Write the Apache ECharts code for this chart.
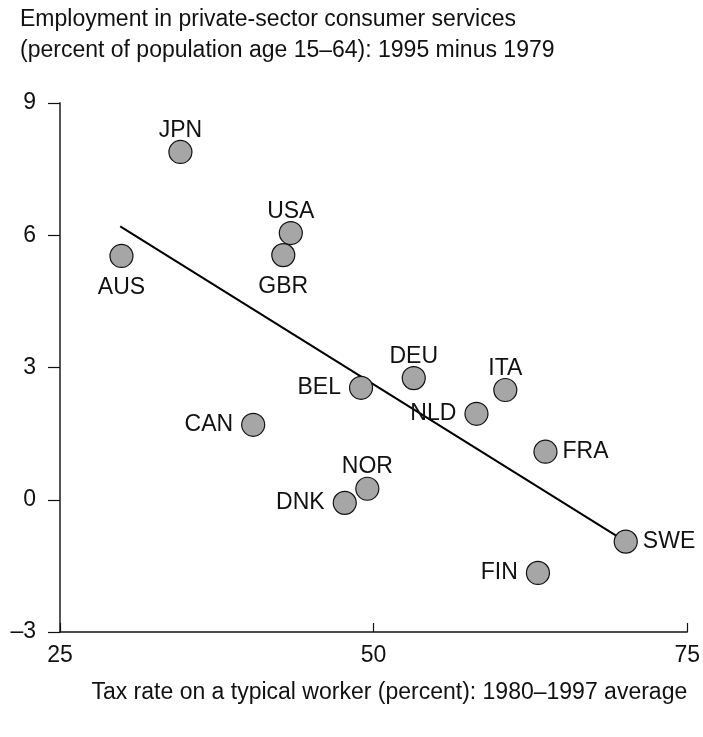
<!DOCTYPE html>
<html>
<head>
<meta charset="utf-8">
<script src="https://cdn.jsdelivr.net/npm/echarts@6/dist/echarts.min.js"></script>
<style>
html,body{margin:0;padding:0;background:#fff;}
#chart{width:703px;height:737px;}
</style>
</head>
<body>
<div id="chart"></div>
<script>
// Data
const countries = ['JPN','AUS','USA','GBR','DEU','BEL','ITA','NLD','CAN','FRA','NOR','DNK','SWE','FIN'];
const taxRate = [34.6, 29.9, 43.4, 42.8, 53.2, 49.0, 60.5, 58.2, 40.4, 63.7, 49.5, 47.7, 70.1, 63.1];
const employmentChange = [7.89, 5.53, 6.05, 5.55, 2.76, 2.54, 2.49, 1.95, 1.70, 1.09, 0.25, -0.07, -0.95, -1.66];
const trendX = [29.8, 70.1];
const trendY = [6.2, -0.95];
const xTicks = [25, 50, 75];
const yTicks = [-3, 0, 3, 6, 9];

const labelSide = {JPN:'top',AUS:'bottom',USA:'top',GBR:'bottom',DEU:'top',BEL:'left',ITA:'top',NLD:'left',CAN:'left',FRA:'right',NOR:'top',DNK:'left',SWE:'right',FIN:'left'};
const sideDistance = {top: -2, bottom: 8, left: 8, right: 5};

const font = 'Liberation Sans, Arial, Helvetica, sans-serif';
const fs = 23;
const chart = echarts.init(document.getElementById('chart'));

const points = countries.map((c, i) => ({
  name: c,
  value: [taxRate[i], employmentChange[i]],
  label: {position: labelSide[c], distance: sideDistance[labelSide[c]]}
}));

chart.setOption({
  animation: false,
  backgroundColor: '#fff',
  textStyle: {fontFamily: font},
  title: {
    text: 'Employment in private-sector consumer services\n(percent of population age 15\u201364): 1995 minus 1979',
    left: 15, top: -1,
    textStyle: {fontFamily: font, fontSize: fs, fontWeight: 'normal', color: '#111', lineHeight: 31}
  },
  grid: {left: 60, right: 15, top: 103, bottom: 105, containLabel: false},
  xAxis: {
    type: 'value', min: 25, max: 75, interval: 25,
    name: 'Tax rate on a typical worker (percent): 1980\u20131997 average',
    nameLocation: 'end',
    nameGap: 0,
    nameTextStyle: {fontFamily: font, fontSize: fs, color: '#111', align: 'right', verticalAlign: 'top', padding: [49, 0, 0, 0]},
    axisLine: {show: true, onZero: false, lineStyle: {color: '#111', width: 1.5}},
    axisTick: {show: true, inside: true, length: 9, lineStyle: {color: '#111', width: 1.2}},
    axisLabel: {fontFamily: font, fontSize: fs, color: '#111', margin: 12,
      formatter: v => xTicks.includes(v) ? String(v) : ''},
    splitLine: {show: false}
  },
  yAxis: {
    type: 'value', min: -3, max: 9, interval: 3,
    axisLine: {show: true, onZero: false, lineStyle: {color: '#555', width: 2}},
    axisTick: {show: true, inside: false, length: 12, lineStyle: {color: '#111', width: 1.2}},
    axisLabel: {fontFamily: font, fontSize: fs, color: '#111', margin: 24,
      formatter: v => yTicks.includes(v) ? (v < 0 ? '\u2013' + Math.abs(v) : String(v)) : ''},
    splitLine: {show: false}
  },
  series: [
    {
      type: 'line',
      data: trendX.map((x, i) => [x, trendY[i]]),
      symbol: 'none',
      lineStyle: {color: '#000', width: 2},
      z: 1,
      silent: true
    },
    {
      type: 'scatter',
      data: points,
      symbolSize: 23,
      itemStyle: {color: '#a6a6a6', borderColor: '#111', borderWidth: 1.2, opacity: 1},
      label: {show: true, formatter: p => p.name, fontFamily: font, fontSize: fs, color: '#111'},
      z: 3
    }
  ]
});
</script>
</body>
</html>
